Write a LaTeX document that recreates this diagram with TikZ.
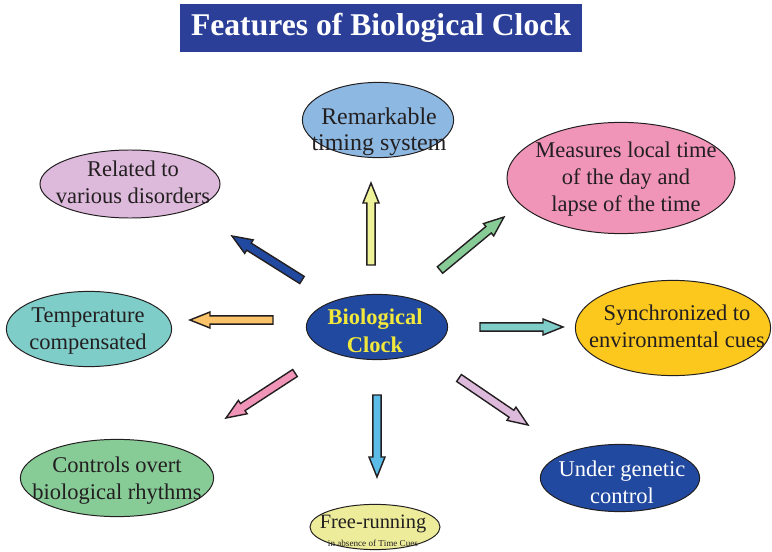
\documentclass[tikz,border=0pt]{standalone}
\usepackage{fontspec}
\setmainfont{Liberation Serif}
\usetikzlibrary{shapes.geometric, calc}
\definecolor{outline}{HTML}{231F20}
\definecolor{titleblue}{HTML}{2B3F99}
\definecolor{clockblue}{HTML}{2149A0}
\definecolor{skyblue}{HTML}{8DB8E2}
\definecolor{rosepink}{HTML}{F095B8}
\definecolor{lilac}{HTML}{DDBADB}
\definecolor{teal}{HTML}{7ECDC9}
\definecolor{sunyellow}{HTML}{FCC81E}
\definecolor{leafgreen}{HTML}{87CB97}
\definecolor{paleyellow}{HTML}{ECEC9A}
\definecolor{lemon}{HTML}{EEF39A}
\definecolor{orangeish}{HTML}{FAC36A}
\definecolor{cyanish}{HTML}{5BBDE7}
\definecolor{clocktext}{HTML}{F2E83C}
\tikzset{
    bubble/.style={ellipse, draw=outline, line width=0.7pt, inner sep=0pt},
    bubbletext/.style={align=center, inner sep=0pt, text=outline, font=\fontsize{16}{19.2}\selectfont},
    blockarrow/.style={draw=outline, line width=1pt, line join=miter,
        to path={let \p1=($(\tikztotarget)!0.5cm!(\tikztostart)$) in
            ($(\tikztostart)!0.105cm!90:(\tikztotarget)$) -- ($(\p1)!0.105cm!90:(\tikztotarget)$)
            -- ($(\p1)!0.2cm!90:(\tikztotarget)$) -- (\tikztotarget)
            -- ($(\p1)!0.2cm!-90:(\tikztotarget)$) -- ($(\p1)!0.105cm!-90:(\tikztotarget)$)
            -- ($(\tikztostart)!0.105cm!-90:(\tikztotarget)$) -- cycle}},
}
\begin{document}
\begin{tikzpicture}[x=0.025cm, y=-0.025cm]
    \useasboundingbox (0,0) rectangle (772,552);
    % title
    \node[fill=titleblue, minimum width=10.03cm, minimum height=1.18cm, text=white,
        font=\bfseries\fontsize{22.5}{27}\selectfont] (title) at (381,28) {Features of Biological Clock};
    % bubbles
    \node[bubble, fill=clockblue, minimum width=3.53cm, minimum height=1.63cm] (clock) at (377,327) {};
    \node[bubble, fill=skyblue, minimum width=3.78cm, minimum height=1.88cm] (timing) at (378,120) {};
    \node[bubble, fill=rosepink, minimum width=5.7cm, minimum height=2.78cm] (measure) at (621,178) {};
    \node[bubble, fill=lilac, minimum width=4.5cm, minimum height=1.7cm] (disorder) at (130,184) {};
    \node[bubble, fill=teal, minimum width=4.13cm, minimum height=1.88cm] (temp) at (89,329) {};
    \node[bubble, fill=sunyellow, minimum width=4.88cm, minimum height=2.38cm] (sync) at (673,328) {};
    \node[bubble, fill=clockblue, minimum width=3.98cm, minimum height=1.68cm] (genetic) at (620,478) {};
    \node[bubble, fill=leafgreen, minimum width=4.83cm, minimum height=1.93cm] (rhythm) at (117,478) {};
    \node[bubble, fill=paleyellow, minimum width=3.25cm, minimum height=1.13cm] (free) at (375,527) {};
    % texts
    \node[bubbletext, text=clocktext, font=\bfseries\fontsize{16}{19.5}\selectfont] (clock-txt) at (375,331) {Biological\\Clock};
    \node[bubbletext, font=\fontsize{17}{18.5}\selectfont] (timing-txt) at (379,132) {Remarkable\\timing system};
    \node[bubbletext] (measure-txt) at (626,179) {Measures local time\\of the day and\\lapse of the time};
    \node[bubbletext] (disorder-txt) at (133,182) {Related to\\various disorders};
    \node[bubbletext] (temp-txt) at (88,331) {Temperature\\compensated};
    \node[bubbletext] (sync-txt) at (677,326) {Synchronized to\\environmental cues};
    \node[bubbletext] (rhythm-txt) at (117,481) {Controls overt\\biological rhythms};
    \node[bubbletext, text=white] (genetic-txt) at (622,482) {Under genetic\\control};
    \node[bubbletext, font=\fontsize{14.5}{14}\selectfont] (free-txt) at (373,531)
        {Free-running\\[-1.5pt]{\fontsize{6.5}{7}\selectfont in absence of Time Cues}};
    % arrow ends
    \coordinate (up-s) at (371,265);  \coordinate (up-e) at (371,183);
    \coordinate (ne-s) at (440,270);  \coordinate (ne-e) at (504,217);
    \coordinate (nw-s) at (302,280);  \coordinate (nw-e) at (232,236);
    \coordinate (w-s) at (273,320);   \coordinate (w-e) at (190,320);
    \coordinate (e-s) at (480,327);   \coordinate (e-e) at (563,327);
    \coordinate (sw-s) at (295,373);  \coordinate (sw-e) at (226,418);
    \coordinate (s-s) at (377,395);   \coordinate (s-e) at (377,477);
    \coordinate (se-s) at (459,378);  \coordinate (se-e) at (528,425);
    % arrows
    \draw[blockarrow, fill=lemon] (up-s) to (up-e);
    \draw[blockarrow, fill=leafgreen] (ne-s) to (ne-e);
    \draw[blockarrow, fill=clockblue] (nw-s) to (nw-e);
    \draw[blockarrow, fill=orangeish] (w-s) to (w-e);
    \draw[blockarrow, fill=teal] (e-s) to (e-e);
    \draw[blockarrow, fill=rosepink] (sw-s) to (sw-e);
    \draw[blockarrow, fill=cyanish] (s-s) to (s-e);
    \draw[blockarrow, fill=lilac] (se-s) to (se-e);
\end{tikzpicture}
\end{document}
